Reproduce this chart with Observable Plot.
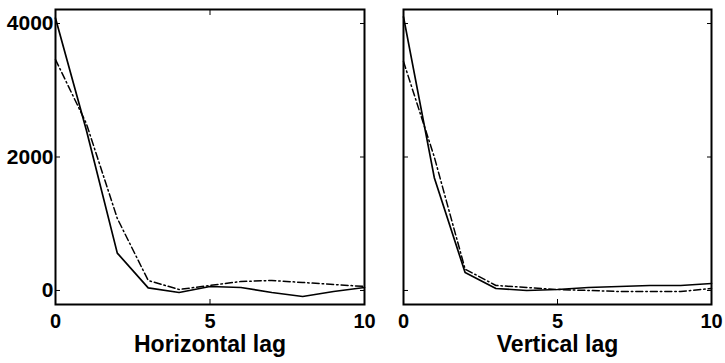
<!DOCTYPE html>
<html>
<head>
<meta charset="utf-8">
<script src="https://cdn.jsdelivr.net/npm/d3@7"></script>
<script src="https://cdn.jsdelivr.net/npm/@observablehq/plot@0.6"></script>
<style>
  html, body { margin: 0; padding: 0; background: #fff; }
  #wrap { display: flex; width: 725px; height: 363px; }
  svg { font-family: "Liberation Sans", Arial, sans-serif; font-weight: bold; }
</style>
</head>
<body>
<div id="wrap"></div>
<script>
const lags = [0, 1, 2, 3, 4, 5, 6, 7, 8, 9, 10];
const horizSolid = [4080, 2400, 560, 40, -30, 60, 45, -30, -90, -15, 45];
const horizDashDot = [3460, 2500, 1080, 150, 15, 75, 135, 150, 120, 90, 60];
const vertSolid = [4100, 1690, 270, 30, 0, 15, 45, 60, 75, 75, 105];
const vertDashDot = [3430, 2000, 320, 75, 45, 15, 0, -15, -15, -15, 30];
const xTicks = [0, 5, 10];
const yTicks = [0, 2000, 4000];
const panelLabels = ["Horizontal lag", "Vertical lag"];

function panel(solid, dashdot, label, showY, opts) {
  const solidData = lags.map((x, i) => ({x, y: solid[i]}));
  const ddData = lags.map((x, i) => ({x, y: dashdot[i]}));
  const marks = [
    Plot.line(solidData, {x: "x", y: "y", stroke: "black", strokeWidth: 1.7}),
    Plot.line(ddData, {x: "x", y: "y", stroke: "black", strokeWidth: 1.5, strokeDasharray: "7,3,1.5,3"}),
    Plot.frame({stroke: "black", strokeWidth: 2}),
    Plot.axisX(xTicks, {anchor: "bottom", tickSize: 0, tickPadding: 9, fontSize: 20, fontWeight: "bold", fill: "black", tickFormat: d3.format("d"), label: null}),
    Plot.axisX([], {anchor: "bottom", tickSize: 0, fontSize: 23, fontWeight: "bold", fill: "black", label: label, labelAnchor: "center", labelOffset: 47, labelArrow: "none"}),
    Plot.axisX(xTicks, {anchor: "bottom", tickSize: -5, tickFormat: () => "", label: null}),
    Plot.axisX(xTicks, {anchor: "top", tickSize: -5, tickFormat: () => "", label: null}),
    Plot.axisY(yTicks, {anchor: "left", tickSize: -5, tickFormat: () => "", label: null}),
    Plot.axisY(yTicks, {anchor: "right", tickSize: -5, tickFormat: () => "", label: null})
  ];
  if (showY) {
    marks.push(Plot.axisY(yTicks, {anchor: "left", tickSize: 0, tickPadding: 2, fontSize: 21, fontWeight: "bold", fill: "black", tickFormat: d3.format("d"), label: null}));
  }
  return Plot.plot({
    width: opts.width,
    height: 363,
    marginLeft: opts.marginLeft,
    marginRight: opts.marginRight,
    marginTop: 9,
    marginBottom: 59,
    style: {fontFamily: "'Liberation Sans', Arial, sans-serif", fontWeight: "bold", color: "black", background: "transparent", overflow: "visible"},
    x: {domain: [0, 10]},
    y: {domain: [-210, 4210]},
    marks
  });
}

const wrap = document.getElementById("wrap");
wrap.append(panel(horizSolid, horizDashDot, panelLabels[0], true, {width: 370, marginLeft: 55, marginRight: 6}));
wrap.append(panel(vertSolid, vertDashDot, panelLabels[1], false, {width: 355, marginLeft: 33, marginRight: 14}));
</script>
</body>
</html>
